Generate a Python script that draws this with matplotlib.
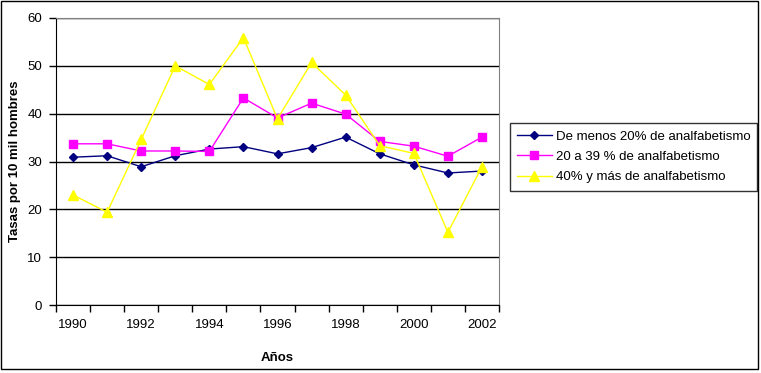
import numpy as np
import matplotlib.pyplot as plt
from matplotlib.patches import Rectangle

plt.rcParams['font.family'] = ['Liberation Sans', 'DejaVu Sans']

years = list(range(1990, 2003))
tick_labels = ['1990', '1992', '1994', '1996', '1998', '2000', '2002']

menos20 = [30.9, 31.2, 28.9, 31.2, 32.6, 33.1, 31.6, 32.9, 35.1, 31.6, 29.3, 27.6, 28.0]
de20a39 = [33.7, 33.7, 32.2, 32.2, 32.1, 43.3, 39.1, 42.2, 39.9, 34.2, 33.2, 31.1, 35.1]
mas40 = [23.0, 19.4, 34.6, 50.0, 46.1, 55.9, 38.9, 50.7, 43.9, 33.3, 31.7, 15.2, 28.9]

names = ['De menos 20% de analfabetismo',
         '20 a 39 % de analfabetismo',
         '40% y más de analfabetismo']

fig = plt.figure(figsize=(7.61, 3.73), dpi=100)
ax = fig.add_axes([56/761, 68/373, 443/761, 287/373])

x = np.arange(len(years))
ax.plot(x, menos20, color='#000080', marker='D', markersize=4.5, lw=1, label=names[0])
ax.plot(x, de20a39, color='#FF00FF', marker='s', markersize=6, lw=1, label=names[1])
ax.plot(x, mas40, color='#FFFF00', marker='^', markersize=7, lw=1, label=names[2])

ax.set_xlim(-0.5, len(years) - 0.5)
ax.set_ylim(0, 60)
ax.set_yticks(range(0, 61, 10))
ax.yaxis.grid(True, color='black', lw=1)
ax.set_axisbelow(True)

ax.set_xticks(np.arange(-0.5, len(years), 1))
ax.set_xticklabels([])
ax.set_xticks(x[::2], labels=tick_labels, minor=True)
ax.tick_params(axis='x', which='minor', length=0, pad=10, labelsize=9.5)
ax.tick_params(axis='x', which='major', direction='out', length=5, width=1)
ax.tick_params(axis='y', direction='out', length=5, width=1, labelsize=9.5, pad=5)

for s in ['top', 'right']:
    ax.spines[s].set_color('#808080')
for s in ['left', 'bottom']:
    ax.spines[s].set_color('black')

ax.set_xlabel('Años', fontsize=9.5, fontweight='bold', labelpad=15)
ax.set_ylabel('Tasas por 10 mil hombres', fontsize=9.5, fontweight='bold', labelpad=4.5)

leg = ax.legend(loc='center left', bbox_to_anchor=(510/761, 216/373),
                bbox_transform=fig.transFigure, fontsize=9.5, frameon=True,
                fancybox=False, edgecolor='black', handlelength=2.6,
                handletextpad=0.3, borderpad=0.55, labelspacing=0.6,
                borderaxespad=0)
leg.get_frame().set_linewidth(1)

fig.patches.append(Rectangle((1/761, 4/373), 757/761, 368/373, transform=fig.transFigure,
                             fill=False, edgecolor='black', lw=1))

fig.savefig('out.png', dpi=100)
